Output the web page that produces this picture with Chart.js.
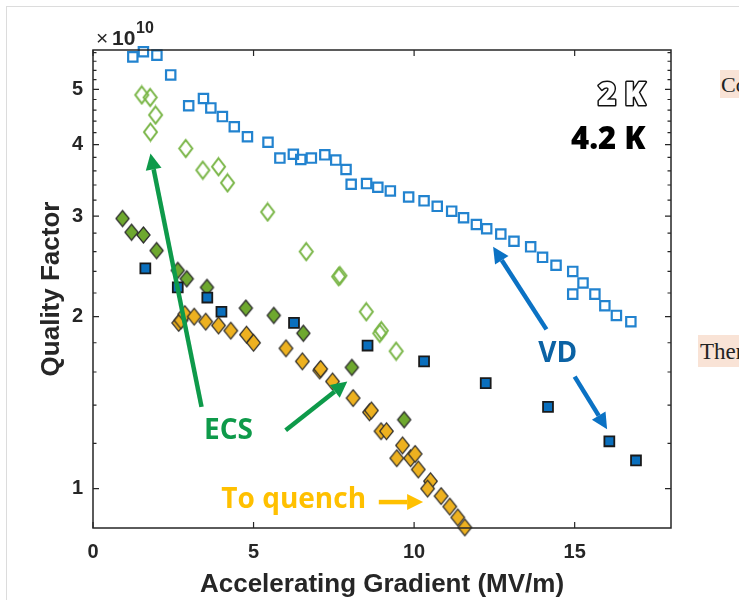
<!DOCTYPE html>
<html>
<head>
<meta charset="utf-8">
<script src="https://cdn.jsdelivr.net/npm/chart.js@4.4.1/dist/chart.umd.min.js"></script>
<style>
  html, body { margin: 0; padding: 0; background: #fff; }
  body { width: 739px; height: 600px; position: relative; overflow: hidden; }
  #frame { position: absolute; left: 6px; top: 6px; right: -2px; bottom: -2px; border-left: 1px solid #dcdcdc; border-top: 1px solid #dcdcdc; }
  #chart { position: absolute; left: 0; top: 0; }
  .side { position: absolute; background: #f9e3d6; font-family: 'Liberation Serif', serif; color: #222; white-space: nowrap; overflow: hidden; }
</style>
</head>
<body>
<div id="frame"></div>
<div class="side" style="left:720px;top:70px;width:19px;height:28px;line-height:30px;padding-left:1px;font-size:22px">Co</div>
<div class="side" style="left:698px;top:335px;width:41px;height:32px;line-height:34px;padding-left:2px;font-size:23px">Ther</div>
<canvas id="chart" width="739" height="600"></canvas>
<script>
// Q0 vs Eacc, values in units of 1e10
const xTicks = [0, 5, 10, 15];
const yTicksMajor = [1, 2, 3, 4, 5];
const yTicksMinor = [1.2, 1.4, 1.6, 1.8, 2.2, 2.4, 2.6, 2.8, 3.2, 3.4, 3.6, 3.8,
                     4.2, 4.4, 4.6, 4.8, 5.2, 5.4, 5.6, 5.8];

// 2 K, vertical dipping (open squares)
const vd2kX = [1.24, 1.57, 1.99, 2.42, 2.98, 3.44, 3.67, 4.03, 4.40, 4.81, 5.45, 5.82, 6.24, 6.47,
               6.80, 7.22, 7.56, 7.88, 8.04, 8.52, 8.87, 9.26, 9.83, 10.31, 10.72, 11.17, 11.54,
               11.94, 12.26, 12.70, 13.11, 13.63, 14.00, 14.42, 14.94, 15.26, 14.94, 15.63, 15.94,
               16.30, 16.75];
const vd2kY = [5.70, 5.82, 5.74, 5.30, 4.68, 4.82, 4.64, 4.48, 4.30, 4.13, 4.04, 3.79, 3.85, 3.77,
               3.79, 3.84, 3.76, 3.62, 3.41, 3.42, 3.37, 3.32, 3.24, 3.19, 3.12, 3.06, 2.98,
               2.90, 2.85, 2.79, 2.71, 2.65, 2.54, 2.46, 2.40, 2.29, 2.19, 2.19, 2.09,
               2.01, 1.96];

// 2 K, ECS (open diamonds)
const ecs2kX = [1.52, 1.78, 1.95, 1.79, 2.89, 3.42, 3.91, 4.19, 5.44, 6.64, 7.65, 7.69, 8.51, 8.93, 8.98, 9.44];
const ecs2kY = [4.89, 4.84, 4.51, 4.21, 3.94, 3.61, 3.66, 3.43, 3.05, 2.60, 2.35, 2.36, 2.04, 1.87, 1.89, 1.74];

// 4.2 K, ECS (filled diamonds)
const ecs4kX = [0.92, 1.20, 1.57, 1.98, 2.64, 2.92, 3.55, 4.76, 5.63, 6.55, 8.06, 9.69];
const ecs4kY = [2.97, 2.81, 2.78, 2.61, 2.41, 2.33, 2.25, 2.07, 2.01, 1.87, 1.63, 1.32];

// 4.2 K, vertical dipping (filled squares)
const vd4kX = [1.63, 2.64, 3.56, 4.00, 6.26, 8.55, 10.31, 12.23, 14.17, 16.08, 16.91];
const vd4kY = [2.43, 2.25, 2.16, 2.04, 1.95, 1.78, 1.67, 1.53, 1.39, 1.21, 1.12];

// 4.2 K, taken to quench (orange diamonds)
const quenchX = [2.67, 2.74, 2.86, 3.15, 3.51, 3.91, 4.29, 4.78, 5.00, 6.01, 6.52, 7.06, 7.09, 7.46,
                 8.10, 8.61, 8.67, 8.97, 9.14, 9.64, 9.46, 9.89, 10.03, 10.13, 10.51, 10.42, 10.84,
                 11.11, 11.36, 11.58];
const quenchY = [1.95, 1.97, 2.02, 2.00, 1.96, 1.93, 1.89, 1.86, 1.80, 1.76, 1.67, 1.61, 1.62, 1.54,
                 1.44, 1.36, 1.37, 1.26, 1.26, 1.19, 1.13, 1.13, 1.15, 1.08, 1.03, 1.00, 0.97,
                 0.93, 0.89, 0.855];

// annotations, in data coordinates
const arrows = [
  { from: [3.38, 1.39], to: [1.79, 3.86], color: '#0e9a4a' },
  { from: [6.00, 1.265], to: [7.92, 1.54], color: '#0e9a4a' },
  { from: [14.12, 1.90], to: [12.46, 2.65], color: '#0b72c4' },
  { from: [15.00, 1.57], to: [16.01, 1.27], color: '#0b72c4' },
  { from: [8.90, 0.947], to: [10.28, 0.947], color: '#ffc000' }
];
const notes = [
  { text: 'ECS', at: [4.22, 1.26], color: '#0e9a4a' },
  { text: 'VD', at: [14.47, 1.72], color: '#0b62a4' },
  { text: 'To quench', at: [6.25, 0.953], color: '#ffc000' }
];
const tempLabels = [
  { text: '2 K', at: [17.21, 4.87], outline: true },
  { text: '4.2 K', at: [17.21, 4.08], outline: false }
];

const pts = (xs, ys) => xs.map((v, i) => ({ x: v, y: ys[i] }));

// MATLAB-like diamond marker (a bit taller than wide)
const diamond = (w, h, fill, stroke, lw) => {
  const c = document.createElement('canvas');
  c.width = Math.ceil(w + lw + 2);
  c.height = Math.ceil(h + lw + 2);
  const g = c.getContext('2d');
  const cx = c.width / 2, cy = c.height / 2;
  g.beginPath();
  g.moveTo(cx, cy - h / 2);
  g.lineTo(cx + w / 2, cy);
  g.lineTo(cx, cy + h / 2);
  g.lineTo(cx - w / 2, cy);
  g.closePath();
  if (fill) { g.fillStyle = fill; g.fill(); }
  g.lineWidth = lw;
  g.lineJoin = 'miter';
  g.strokeStyle = stroke;
  g.stroke();
  return c;
};

const drawArrow = (ctx, x1, y1, x2, y2, color) => {
  const headLen = 16, headW = 8;
  const ang = Math.atan2(y2 - y1, x2 - x1);
  const bx = x2 - headLen * Math.cos(ang);
  const by = y2 - headLen * Math.sin(ang);
  ctx.strokeStyle = color;
  ctx.fillStyle = color;
  ctx.lineWidth = 4.5;
  ctx.lineCap = 'butt';
  ctx.beginPath();
  ctx.moveTo(x1, y1);
  ctx.lineTo(bx, by);
  ctx.stroke();
  ctx.beginPath();
  ctx.moveTo(x2, y2);
  ctx.lineTo(bx + headW * Math.sin(ang), by - headW * Math.cos(ang));
  ctx.lineTo(bx - headW * Math.sin(ang), by + headW * Math.cos(ang));
  ctx.closePath();
  ctx.fill();
};

const axesBox = {
  id: 'axesBox',
  afterDatasetsDraw(chart) {
    const { ctx, chartArea: a, scales: { x, y } } = chart;
    ctx.save();
    ctx.strokeStyle = '#262626';
    ctx.lineWidth = 1.5;
    ctx.strokeRect(a.left, a.top, a.right - a.left, a.bottom - a.top);
    ctx.lineWidth = 1.2;
    ctx.beginPath();
    xTicks.forEach(v => {
      const px = x.getPixelForValue(v);
      ctx.moveTo(px, a.bottom); ctx.lineTo(px, a.bottom - 6);
      ctx.moveTo(px, a.top); ctx.lineTo(px, a.top + 6);
    });
    const yTick = (v, len) => {
      const py = y.getPixelForValue(v);
      ctx.moveTo(a.left, py); ctx.lineTo(a.left + len, py);
      ctx.moveTo(a.right, py); ctx.lineTo(a.right - len, py);
    };
    yTicksMajor.forEach(v => yTick(v, 6));
    yTicksMinor.forEach(v => yTick(v, 3.5));
    ctx.stroke();

    // exponent label
    ctx.fillStyle = '#262626';
    ctx.textBaseline = 'alphabetic';
    ctx.textAlign = 'left';
    ctx.font = '21px "Liberation Sans"';
    ctx.fillText('\u00d7', a.left + 3, a.top - 5);
    ctx.font = 'bold 21px "Liberation Sans"';
    ctx.fillText('10', a.left + 19, a.top - 5);
    ctx.font = 'bold 16px "Liberation Sans"';
    ctx.fillText('10', a.left + 43, a.top - 17);
    ctx.restore();
  }
};

const annotations = {
  id: 'annotations',
  afterDraw(chart) {
    const { ctx, scales: { x, y } } = chart;
    ctx.save();
    arrows.forEach(ar => drawArrow(ctx,
      x.getPixelForValue(ar.from[0]), y.getPixelForValue(ar.from[1]),
      x.getPixelForValue(ar.to[0]), y.getPixelForValue(ar.to[1]), ar.color));

    ctx.textBaseline = 'middle';
    ctx.textAlign = 'center';
    ctx.font = 'bold 28px "Open Sans"';
    notes.forEach(n => {
      ctx.fillStyle = n.color;
      ctx.fillText(n.text, x.getPixelForValue(n.at[0]), y.getPixelForValue(n.at[1]));
    });

    ctx.font = '800 31px "Open Sans"';
    ctx.textAlign = 'right';
    tempLabels.forEach(t => {
      const px = x.getPixelForValue(t.at[0]);
      const py = y.getPixelForValue(t.at[1]);
      if (t.outline) {
        ctx.lineWidth = 3;
        ctx.lineJoin = 'round';
        ctx.strokeStyle = '#111';
        ctx.strokeText(t.text, px, py);
        ctx.fillStyle = '#fff';
        ctx.fillText(t.text, px, py);
      } else {
        ctx.fillStyle = '#000';
        ctx.fillText(t.text, px, py);
      }
    });
    ctx.restore();
  }
};

const tickFont = { family: 'Liberation Sans', size: 20, weight: 'bold' };
const titleFont = { family: 'Liberation Sans', size: 26, weight: 'bold' };

new Chart(document.getElementById('chart'), {
  type: 'scatter',
  data: {
    datasets: [
      {
        label: 'To quench 4.2 K',
        data: pts(quenchX, quenchY),
        pointStyle: diamond(13.6, 16.8, '#edb120', '#2a2a2a', 1.2),
        clip: false
      },
      {
        label: 'VD 4.2 K',
        data: pts(vd4kX, vd4kY),
        pointStyle: 'rect',
        pointRadius: 7,
        pointBackgroundColor: '#0a6fbd',
        pointBorderColor: '#1a1a1a',
        pointBorderWidth: 1.8,
        clip: false
      },
      {
        label: 'ECS 4.2 K',
        data: pts(ecs4kX, ecs4kY),
        pointStyle: diamond(13.2, 16, '#6ea82f', '#2a2a2a', 1.2),
        clip: false
      },
      {
        label: 'ECS 2 K',
        data: pts(ecs2kX, ecs2kY),
        pointStyle: diamond(13, 17, null, '#7ab648', 2),
        clip: false
      },
      {
        label: 'VD 2 K',
        data: pts(vd2kX, vd2kY),
        pointStyle: 'rect',
        pointRadius: 6.6,
        pointBackgroundColor: 'rgba(0,0,0,0)',
        pointBorderColor: '#2283cf',
        pointBorderWidth: 2.2,
        clip: false
      }
    ]
  },
  options: {
    responsive: false,
    animation: false,
    devicePixelRatio: 1,
    layout: { padding: { left: 36, right: 68, top: 50, bottom: 0 } },
    plugins: { legend: { display: false }, tooltip: { enabled: false } },
    scales: {
      x: {
        type: 'linear',
        position: 'bottom',
        min: 0,
        max: 18,
        afterBuildTicks: (s) => { s.ticks = xTicks.map(v => ({ value: v })); },
        afterFit: (s) => { s.height = 72; },
        grid: { display: false, drawTicks: false },
        border: { display: false },
        ticks: { font: tickFont, color: '#262626', padding: 12, maxRotation: 0, autoSkip: false },
        title: {
          display: true,
          text: 'Accelerating Gradient (MV/m)',
          font: titleFont,
          color: '#262626',
          padding: { top: 0, bottom: 0 }
        }
      },
      y: {
        type: 'logarithmic',
        min: 0.853,
        max: 5.86,
        afterBuildTicks: (s) => { s.ticks = yTicksMajor.map(v => ({ value: v })); },
        afterFit: (s) => { s.width = 57; },
        grid: { display: false, drawTicks: false },
        border: { display: false },
        ticks: {
          font: tickFont,
          color: '#262626',
          padding: 10,
          autoSkip: false,
          callback: (v) => String(v)
        },
        title: {
          display: true,
          text: 'Quality Factor',
          font: titleFont,
          color: '#262626',
          padding: { top: 0, bottom: 0 }
        }
      }
    }
  },
  plugins: [axesBox, annotations]
});
</script>
</body>
</html>
